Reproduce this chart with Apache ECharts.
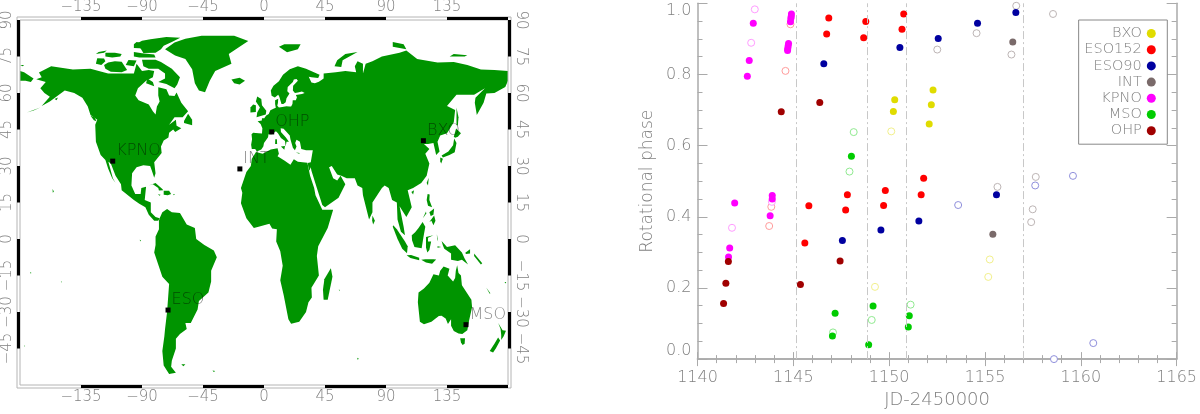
<!DOCTYPE html>
<html>
<head>
<meta charset="utf-8">
<title>Observing sites and rotational phase</title>
<script src="https://cdn.jsdelivr.net/npm/echarts@6/dist/echarts.min.js"></script>
<style>
  html, body { margin: 0; padding: 0; background: #fff; }
  #main { width: 1200px; height: 414px; }
</style>
</head>
<body>
<div id="main"></div>
<script>
// ---- map axis ticks
const lonTicks = [-135, -90, -45, 0, 45, 90, 135];
const latTicks = [-45, -30, -15, 0, 15, 30, 45, 60, 75, 90];
const lonBands = [[-135, -90], [-45, 0], [45, 90], [135, 180]];
const latBands = [[75, 90], [45, 60], [15, 30], [-15, 0], [-45, -30]];

// ---- observatories [lon, lat, name]
const sites = [
  [-111.6, 32, 'KPNO'], [5.7, 44, 'OHP'], [-17.8, 28.8, 'INT'],
  [117.6, 40.4, 'BXO'], [-70.8, -29.2, 'ESO'], [149, -35.2, 'MSO']
];

// ---- coastlines, lon/lat
const eurasia = [[-9,37],[-9.5,38.7],[-8.8,41],[-9.2,43],[-8,43.7],[-4,43.5],[-1.5,43.4],[-1.2,45.5],[-2.5,47.3],[-4.7,48.4],[-1.6,48.7],[-1.5,49.6],[0.2,49.6],[1.6,50.8],[3.5,51.4],[4.7,52.9],[7,53.5],[8.7,53.9],[8.2,55.5],[8.2,57],[10.5,57.6],[10.3,56],[9.8,54.8],[11,54],[13.5,54.2],[16.5,54.6],[18.6,54.5],[20,54.5],[21,55.5],[21.2,57],[23.5,57],[24.3,58.3],[23.5,59.2],[28,59.6],[30,60],[28,60.6],[25,60.2],[22.8,60],[21.3,61],[21.5,63],[25,65],[24,65.8],[22,65.5],[21.3,64.5],[17.5,62.5],[17.2,60.7],[18.8,59.8],[16.6,57.8],[16,56.2],[14.3,55.5],[12.9,55.5],[11.3,58.5],[10.5,59.3],[8,58.1],[5.6,58.9],[5,61],[7,63],[11,64.8],[14,67.5],[19,69.8],[25,71],[31,70],[41,67.5],[40,66.2],[35,66.5],[33,66.7],[35,64.3],[37.5,64],[40.5,64.6],[44,66],[44,68],[53,68.5],[60,69],[68,68.5],[67,71],[69,73],[73,72],[73,68],[75,72],[80,73],[87,75],[100,76.5],[105,77.5],[113,74],[128,72.5],[140,72.7],[150,71.5],[160,69.7],[170,69.5],[180,69],[180,65],[178,62.5],[170,60],[164,59.8],[162,56],[157,51],[155.5,56],[156,58],[163,62],[155,59.3],[142,59.3],[135,54.7],[141,53],[140,48],[135,43.5],[130,42.5],[128,40],[129.5,36],[127,34.5],[126,37],[125,39.5],[121,39],[118,39],[122,37],[119,35],[122,31],[120,26],[116,23],[110,21],[106,20],[109,13],[105,9],[100,13.5],[103,5],[104,1.5],[101,3],[98.5,8],[98,15],[94.5,16],[92,21],[89,22],[87,21],[80,15],[80,11],[77.5,8],[73,18],[72.5,21],[69,22],[67,25],[61,25],[57,26],[54,26.5],[50,30],[48,29.5],[51,25],[54,24],[56.5,26],[60,22.5],[55,17],[45,13],[43,14],[39,21],[35,28],[34.5,29.5],[33.5,28],[32.6,29.9],[32.3,31.2],[34.5,31.5],[36,36.5],[31,36.5],[27.5,37],[26.5,40],[24,40.8],[23,39.5],[24,38],[22.8,36.5],[21.3,37.5],[19.5,41],[19,42.5],[14.5,45.3],[12.3,45.5],[12.5,44],[16,41.8],[18.4,40],[16.6,40],[16,38],[15.5,40.3],[12.5,41.5],[10.3,43.5],[8.8,44.3],[6,43],[3.3,43],[3,41.8],[0,39.5],[-0.5,38],[-2,36.8],[-5.3,36],[-6.5,37]];
const africa = [[-5.9,35.8],[-1,35],[5,36.8],[10,37.3],[11,35],[10,34],[15,32.3],[19.5,30.5],[22,32.8],[25,31.7],[32,31.3],[32.6,29.8],[34,26],[37,21],[38,18],[43,12],[51,12],[47,4.5],[40,-3],[39,-7],[40.5,-15],[35,-20],[35.3,-24],[32.8,-26],[31,-30],[26,-34],[20,-34.8],[18,-33],[14.5,-23],[12,-17],[13.8,-11],[12,-5],[9,-1],[9.5,4],[6,4.3],[4,6.3],[-4,5],[-7.5,4.5],[-13,8.5],[-17,14.7],[-16,19],[-17,21],[-13,27.5],[-9.7,30],[-9,33]];
const northAmerica = [[-168,65.6],[-164,66.5],[-166,68.4],[-157,71],[-141,69.7],[-128,70],[-115,68],[-108,68],[-96,68],[-94,72],[-90,69],[-85,69.5],[-81,69],[-82,66.5],[-87,65],[-93,62],[-95,59],[-92.5,57],[-85,55.3],[-82,52.5],[-80,51.2],[-79,54.5],[-77,56.5],[-78,59],[-78,62.4],[-72,61.5],[-70,59],[-66,58.8],[-64.5,60.2],[-61,56],[-56,52.5],[-60,50],[-66,50],[-70,47],[-65,49],[-64.5,46.5],[-61,45.5],[-65.5,44],[-67,45],[-70,43.7],[-70.5,41.7],[-74,40.5],[-76,38],[-75.5,35.3],[-81,31.5],[-80,27],[-81,25.2],[-82.7,28],[-84,30],[-89,30.3],[-94,29.5],[-97.3,27],[-97.8,22],[-95,18.5],[-91,18.5],[-90.5,21],[-87,21.5],[-88,16],[-83.5,15],[-83.5,11],[-80,9],[-77,8.5],[-78,7.5],[-81,7.5],[-85,10],[-87.5,13],[-92,14.5],[-96,16],[-105,20],[-105.5,22.5],[-109.5,26],[-113,31],[-114.8,31.7],[-111.5,25],[-109.5,23],[-112,25],[-115,29],[-117,32.5],[-120.5,34.5],[-124,40],[-124.5,47],[-123,49],[-128,51],[-130,54.5],[-134,58],[-140,60],[-147,61],[-152,59],[-158,56.5],[-164,54.7],[-158,58.5],[-162,60],[-165,62],[-161,64.5]];
const southAmerica = [[-77,8.5],[-75,11],[-71.5,12.3],[-68,11],[-62,10.7],[-57,6],[-51,4.5],[-50,0],[-44,-2.5],[-37,-4.7],[-34.8,-7.5],[-39,-13],[-39,-17.5],[-41,-22],[-48,-25.5],[-49,-29],[-54,-34.5],[-58,-34.5],[-57,-37],[-62,-39],[-65,-41],[-65,-45],[-68,-50],[-68.5,-52.5],[-65,-55],[-70,-55.5],[-74,-52],[-75,-46],[-73.5,-40],[-73,-37],[-71.5,-30],[-70,-18.5],[-75,-15.5],[-81,-5.5],[-80,-2.5],[-80,1],[-77.5,4],[-77.5,7.5]];
const australia = [[114,-22],[113.5,-26],[115,-34],[118,-35],[123.5,-34],[129,-31.6],[131,-31.5],[134,-32.7],[135.7,-34.9],[138,-33],[138,-35.6],[140,-37.8],[143.5,-38.8],[146.3,-39],[150,-37.5],[151.3,-33.5],[153.5,-28],[153,-25],[149.5,-22],[146,-19],[145.3,-15],[143.5,-14],[142.5,-10.8],[141.5,-13],[141,-16],[139.5,-17.5],[135.5,-15],[136.8,-12.2],[132.5,-11.3],[130,-13],[129,-15],[125,-14.5],[122,-18],[118,-20.3]];
const arcticIslands = [
  [[-180,69],[-177,68.5],[-170,66],[-172,64.5],[-176,65],[-180,65]],
  [[-90,73.7],[-80,73.7],[-76,72.7],[-68,70],[-62,66.5],[-64,63.5],[-66,62],[-72,63.7],[-78,64.5],[-73,66],[-73,68],[-78,70],[-85,70],[-89,71]],
  [[-117,70],[-113,68.7],[-105,68.5],[-101,69.5],[-105,72.8],[-110,73],[-115,72.5],[-118,71.5]],
  [[-124,72],[-120,71.5],[-117,73],[-118,74.2],[-123,74.3]],
  [[-94.8,80],[-90,81.5],[-83.8,82.1],[-72,83],[-61.8,82.7],[-68,81],[-74,79.4],[-76,78],[-80,76.5],[-89,76.4],[-91,78.3]],
  [[-96,75],[-92,74.6],[-80,74.6],[-81,75.8],[-90,76.3],[-96,76.8]],
  [[-117,75],[-112,74.6],[-106,75],[-105,76],[-110,76.5],[-117,76.5]],
  [[-124,76],[-118,76.5],[-116,77.5],[-122,76.8]],
  [[-96,78.5],[-88,78.3],[-87,80.3],[-94,81],[-96,80]],
  [[-102,71.5],[-96,71],[-94,73.4],[-100,73.6]],
  [[-87,64],[-81,62.8],[-82,64.5],[-86,66]],
  [[-73,78],[-66,80.8],[-58,82.3],[-46,83.5],[-22,83.5],[-11.6,81.4],[-18,79],[-26,76],[-24,72],[-36,69],[-40,65],[-43.5,60.3],[-48,61],[-51,64],[-53,69.8],[-58,74],[-65.6,75.4]],
  [[-24,65.5],[-18,66.3],[-14,65],[-18,63.5],[-22,64]],
  [[11,79],[17,76.7],[25,78],[27,80],[15,80]],
  [[52,71],[57,70.7],[58,73.5],[69,76.8],[60,76],[54,73.5]],
  [[95,79],[105,78],[103,80],[95,81]],
  [[137,75],[148,75],[150,75.5],[140,76]],
  [[-180,71.5],[-178,71],[-177,71.5]]
];
const otherIslands = [
  [[-59,47.7],[-53,46.7],[-53,49],[-56,51.5],[-59,48.5]],
  [[-5.5,50],[1.3,51.2],[1.7,52.7],[-1.5,55],[-2,57.5],[-5,58.6],[-6,56.5],[-3,54],[-5,52]],
  [[-10,52],[-6,52.2],[-6,55],[-8,55.3],[-10,54]],
  [[12.5,38],[15.5,38.2],[15,36.7]],
  [[8.2,39],[9.7,39],[9.5,41],[8.3,41]],
  [[23.5,35.5],[26.3,35.3],[26,35]],
  [[142,54],[143.5,50],[143,46.5],[142,47],[142,51]],
  [[131,34.3],[136,36],[139.5,38.5],[140.3,41.3],[142,39.5],[140.7,35.7],[136.8,34.5],[132,33.5]],
  [[140,42],[141.7,45.4],[145.3,43.5],[143,42],[141,41.6]],
  [[130,33.5],[132,33],[130.7,31],[130,32]],
  [[120,23],[121.5,25.2],[121,22]],
  [[108.7,19.3],[110.7,20],[110,18.3]],
  [[120,16],[120.7,18.5],[122.2,18.3],[122,16],[124,13],[121,13.7]],
  [[122,7],[125.5,9.7],[126.5,7.5],[125,5.7],[123.5,7.5]],
  [[122,11],[125.5,12.5],[125,10],[123,9.5]],
  [[117.2,8.5],[119.5,11.3],[119.7,10.5]],
  [[80,9.7],[81.8,7.5],[80.5,6],[79.8,7.5]],
  [[95.3,5.6],[98,4],[104,-1],[106,-3],[105.5,-5.9],[102,-4],[98.5,0],[95,5]],
  [[105.2,-6.7],[108.5,-6.6],[114.5,-7.7],[114.5,-8.7],[108,-7.8]],
  [[116,-8.5],[119,-8.3],[125,-8.3],[127,-8.4],[124,-10.2],[119.5,-9.7]],
  [[109,1.5],[111.5,2.8],[114,4.5],[117,7],[119,5],[117.7,1],[116.3,-3.8],[111,-3.3],[109.2,-0.5]],
  [[119.5,0.8],[125,1.5],[121,0.5],[121,-1],[123.3,-1],[122,-4.5],[120.5,-5.5],[119.5,-3.5]],
  [[127.5,2],[128.5,-1],[127.7,0]],
  [[128,-3],[130.7,-3.3],[128,-3.6]],
  [[131,-0.8],[135,-3.3],[141,-2.6],[146,-5.5],[148,-8],[150.5,-10.5],[146,-8.5],[143,-9],[138,-8.5],[138,-6],[133,-4],[132,-2.7]],
  [[148.5,-5.7],[152,-4.2],[152,-6],[149,-6.2]],
  [[155,-6],[161,-10],[160,-10.5],[155,-7]],
  [[164,-20],[167,-22.3],[166.5,-22.5]],
  [[177.5,-17.7],[178.7,-17.7],[178,-18.3]],
  [[144.7,-40.8],[148.3,-40.8],[148,-43],[146.5,-43.6],[145.3,-42.5]],
  [[172.8,-34.5],[176,-37.5],[178.5,-37.7],[176.8,-40],[175,-41.5],[175,-39.5],[174.5,-37]],
  [[172.7,-40.5],[174.2,-41.7],[171,-45],[169,-46.6],[166.5,-46],[170,-43]],
  [[49.3,-12],[50.5,-15.5],[47,-25],[44,-25],[43.5,-21],[44.5,-16.5]],
  [[-61,-51.5],[-58,-51.5],[-59.5,-52.3]],
  [[-128,50.7],[-125,50],[-123.5,48.4],[-125.5,48.8]],
  [[-85,22],[-80,23],[-75,20.5],[-74.3,20],[-77.5,19.9],[-78,21],[-82,22.5]],
  [[-74,19.8],[-70,19.8],[-68.5,18.5],[-71,18],[-74,18.2]],
  [[-78.3,18.4],[-76.3,18.2],[-77,17.8]],
  [[-67,18.5],[-65.7,18.4],[-66.5,18]],
  [[-156,20.5],[-155,19.5],[-155.8,19]],
  [[-91.7,-0.3],[-90.8,-0.5],[-91.3,-1]],
  [[-172.5,-13.6],[-171.5,-14],[-172.3,-14.2]],
  [[-149.8,-17.4],[-149.2,-17.6],[-149.6,-18]],
  [[-176.8,-43.7],[-176.2,-44],[-176.6,-44.3]],
  [[55.2,-20.8],[55.9,-21],[55.5,-21.5]],
  [[68.8,-48.8],[70,-49.2],[69,-49.6]],
  [[-38,-54],[-36,-54.2],[-37,-54.7]],
  [[-175,52],[-170,52.8],[-165,54],[-170,53]],
  [[-154.5,57.5],[-152,58.2],[-153,57]]
];
const landMasses = [eurasia, africa, northAmerica, southAmerica, australia].concat(arcticIslands, otherIslands);

// ---- phase plot: [JD-2450000, phase]
const stationNames = ['BXO', 'ESO152', 'ESO90', 'INT', 'KPNO', 'MSO', 'OHP'];
const bxoFilled = [[1150.29,.729],[1150.22,.696],[1152.29,.756],[1152.20,.715],[1152.09,.661]];
const bxoOpen = [[1150.11,.640],[1149.26,.203],[1155.25,.280],[1155.17,.231]];
const eso152Filled = [[1146.85,.959],[1146.74,.914],[1148.78,.949],[1148.67,.903],[1150.76,.970],[1150.67,.927],[1147.82,.462],[1149.80,.474],[1151.67,.462],[1145.81,.431],[1147.73,.419],[1149.71,.432],[1145.60,.326],[1151.80,.508]];
const eso152Open = [[1144.59,.810],[1144.85,.941],[1143.85,.428],[1143.74,.374]];
const eso90Filled = [[1146.59,.830],[1150.56,.876],[1152.56,.901],[1154.61,.944],[1156.61,.974],[1155.60,.462],[1147.56,.333],[1149.57,.363],[1151.55,.388]];
const eso90Open = [[1157.62,.488],[1159.59,.515],[1153.60,.433],[1158.60,.000],[1160.65,.045]];
const intFilled = [[1156.45,.891],[1155.41,.351]];
const intOpen = [[1156.63,.993],[1158.55,.970],[1154.56,.916],[1152.51,.870],[1156.38,.856],[1157.65,.512],[1155.65,.484],[1157.49,.421],[1157.41,.385]];
const kpnoFilled = [[1142.91,.944],[1142.70,.839],[1142.60,.795],[1144.90,.970],[1144.89,.963],[1144.87,.957],[1144.85,.948],[1144.75,.887],[1144.73,.880],[1144.71,.873],[1144.70,.867],[1143.90,.460],[1143.90,.450],[1141.94,.439],[1143.79,.403],[1141.68,.312],[1141.62,.287]];
const kpnoOpen = [[1142.99,.983],[1142.80,.889],[1141.80,.369],[1143.88,.442]];
const msoFilled = [[1148.03,.570],[1147.18,.129],[1147.04,.065],[1149.16,.149],[1148.93,.040],[1151.05,.122],[1151.00,.090]];
const msoOpen = [[1148.15,.638],[1147.93,.527],[1147.07,.075],[1149.09,.110],[1151.12,.153]];
const ohpFilled = [[1144.37,.695],[1146.38,.721],[1141.61,.274],[1141.48,.213],[1141.36,.156],[1145.37,.210],[1147.44,.276]];
const ohpOpen = [];
const filledPoints = [bxoFilled, eso152Filled, eso90Filled, intFilled, kpnoFilled, msoFilled, ohpFilled];
const openPoints = [bxoOpen, eso152Open, eso90Open, intOpen, kpnoOpen, msoOpen, ohpOpen];
// vertical dash-dot separators
const separators = [1145.15, 1148.86, 1150.89, 1157.0];

const solidColors = ['#e0dc00', '#ff0000', '#0000a0', '#7a6a6a', '#ff00ff', '#00cc00', '#a00000'];
const ringColors = ['#f2f08c', '#ff9c9c', '#8f8fdc', '#bdb5b5', '#ff9cff', '#90ea90', '#d08080'];

const labelFont = 'DejaVu Sans';
const textGray = '#808080';
const frameGray = '#b4b4b4';

function mapFrame(params, api) {
  const tl = api.coord([-180, 90]);
  const br = api.coord([180, -60]);
  const t = 3;
  const kids = [
    { type: 'rect', shape: { x: tl[0] - t, y: tl[1] - t, width: br[0] - tl[0] + 2 * t, height: br[1] - tl[1] + 2 * t },
      style: { fill: 'none', stroke: frameGray, lineWidth: 1 } },
    { type: 'rect', shape: { x: tl[0], y: tl[1], width: br[0] - tl[0], height: br[1] - tl[1] },
      style: { fill: 'none', stroke: frameGray, lineWidth: 1 } }
  ];
  lonBands.forEach(function (b) {
    const x0 = api.coord([b[0], 90])[0];
    const x1 = api.coord([b[1], 90])[0];
    kids.push({ type: 'rect', shape: { x: x0, y: tl[1] - t, width: x1 - x0, height: t }, style: { fill: '#000' } });
    kids.push({ type: 'rect', shape: { x: x0, y: br[1], width: x1 - x0, height: t }, style: { fill: '#000' } });
  });
  latBands.forEach(function (b) {
    const y0 = api.coord([-180, b[1]])[1];
    const y1 = api.coord([-180, b[0]])[1];
    kids.push({ type: 'rect', shape: { x: tl[0] - t, y: y0, width: t, height: y1 - y0 }, style: { fill: '#000' } });
    kids.push({ type: 'rect', shape: { x: br[0], y: y0, width: t, height: y1 - y0 }, style: { fill: '#000' } });
  });
  return { type: 'group', children: kids };
}

const series = [
  {
    type: 'custom', name: 'land', xAxisIndex: 0, yAxisIndex: 0, silent: true,
    data: landMasses.map(function (p, i) { return [i]; }),
    encode: { x: 0 },
    renderItem: function (params, api) {
      const pts = landMasses[api.value(0)].map(function (c) { return api.coord(c); });
      return { type: 'polygon', shape: { points: pts }, style: { fill: '#009400' } };
    }
  },
  {
    type: 'custom', name: 'frame', xAxisIndex: 0, yAxisIndex: 0, silent: true, clip: false, z: 5,
    data: [[0, 0]],
    renderItem: mapFrame
  },
  {
    type: 'scatter', name: 'sites', xAxisIndex: 0, yAxisIndex: 0, symbol: 'rect', symbolSize: 5, z: 6,
    itemStyle: { color: '#000', opacity: 1 },
    label: {
      show: true, position: 'right', distance: 1, offset: [0, -10],
      formatter: function (p) { return p.value[2]; },
      color: 'rgba(0,0,0,0.5)', fontFamily: labelFont, fontWeight: 200, fontSize: 16
    },
    data: sites
  }
];

stationNames.forEach(function (name, i) {
  series.push({
    type: 'scatter', name: name + ' open', xAxisIndex: 1, yAxisIndex: 1, clip: false,
    symbolSize: 7, z: 3,
    itemStyle: { color: '#fff', borderColor: ringColors[i], borderWidth: 1, opacity: 1 },
    data: openPoints[i]
  });
});
stationNames.forEach(function (name, i) {
  const s = {
    type: 'scatter', name: name, xAxisIndex: 1, yAxisIndex: 1, clip: false,
    symbolSize: 7, z: 4,
    itemStyle: { color: solidColors[i], opacity: 1 },
    data: filledPoints[i]
  };
  if (i === 0) {
    s.markLine = {
      silent: true, symbol: 'none', animation: false, label: { show: false },
      lineStyle: { color: '#c8c8c8', width: 1, type: [8, 3, 2, 3] },
      data: separators.map(function (v) { return { xAxis: v }; })
    };
  }
  series.push(s);
});

function mapLabel(v) { return String(v).replace('-', '\u2212'); }
const mapLabelStyle = {
  color: textGray, fontFamily: labelFont, fontWeight: 200, fontSize: 15
};
const lonAxis = function (pos) {
  return {
    type: 'value', gridIndex: 0, position: pos, min: -180, max: 180, interval: 45,
    axisLine: { show: false }, axisTick: { show: false }, splitLine: { show: false },
    axisLabel: Object.assign({
      margin: 5,
      formatter: function (v) { return lonTicks.indexOf(v) >= 0 ? mapLabel(v) : ''; }
    }, mapLabelStyle)
  };
};
const latAxis = function (pos, rot) {
  return {
    type: 'value', gridIndex: 0, position: pos, min: -60, max: 90, interval: 15,
    axisLine: { show: false }, axisTick: { show: false }, splitLine: { show: false },
    axisLabel: Object.assign({
      margin: 5, rotate: rot,
      formatter: function (v) { return latTicks.indexOf(v) >= 0 ? mapLabel(v) : ''; }
    }, mapLabelStyle)
  };
};
const phaseAxisLine = { lineStyle: { color: '#aaaaaa', width: 1.5 } };
const jdAxis = function (pos, showLabel) {
  return {
    type: 'value', gridIndex: 1, position: pos, min: 1140, max: 1165, interval: 5,
    name: showLabel ? 'JD-2450000' : '', nameLocation: 'middle', nameGap: 31,
    nameTextStyle: { color: textGray, fontFamily: labelFont, fontWeight: 200, fontSize: 18 },
    axisLine: phaseAxisLine,
    axisTick: { inside: true, length: 7, lineStyle: { color: '#aaaaaa', width: 1 } },
    minorTick: { show: true, splitNumber: 5, length: 4, lineStyle: { color: '#aaaaaa', width: 1 } },
    splitLine: { show: false }, minorSplitLine: { show: false },
    axisLabel: {
      show: showLabel, margin: 11, color: textGray, fontFamily: labelFont, fontWeight: 200, fontSize: 16,
      formatter: function (v) { return String(v); }
    }
  };
};
const phaseAxis = function (pos, showLabel) {
  return {
    type: 'value', gridIndex: 1, position: pos, min: 0, max: 1, interval: 0.2,
    name: showLabel ? 'Rotational phase' : '', nameLocation: 'middle', nameGap: 41,
    nameTextStyle: { color: textGray, fontFamily: labelFont, fontWeight: 200, fontSize: 17 },
    axisLine: phaseAxisLine,
    axisTick: { inside: true, length: 10, lineStyle: { color: '#aaaaaa', width: 1 } },
    minorTick: { show: true, splitNumber: 4, length: 5, lineStyle: { color: '#aaaaaa', width: 1 } },
    splitLine: { show: false }, minorSplitLine: { show: false },
    axisLabel: {
      show: showLabel, margin: 6, color: textGray, fontFamily: labelFont, fontWeight: 200, fontSize: 16,
      verticalAlignMinLabel: 'bottom', verticalAlignMaxLabel: 'top',
      formatter: function (v) { return v.toFixed(1); }
    }
  };
};

const chart = echarts.init(document.getElementById('main'));
chart.setOption({
  backgroundColor: '#fff',
  animation: false,
  grid: [
    { left: 17, right: 692, top: 17.3, bottom: 29 },
    { left: 697.5, right: 22.3, top: 3.3, bottom: 48.3 }
  ],
  xAxis: [lonAxis('bottom'), jdAxis('bottom', true), lonAxis('top'), jdAxis('top', false)],
  yAxis: [latAxis('left', 90), phaseAxis('left', true), latAxis('right', -90), phaseAxis('right', false)],
  legend: {
    data: stationNames, orient: 'vertical', align: 'right', right: 32.7, top: 20, z: 10,
    padding: [6, 11.5, 6, 5.7], itemWidth: 9, itemHeight: 9, itemGap: 1.2, icon: 'circle',
    selectedMode: false, backgroundColor: '#fff', borderColor: '#888', borderWidth: 1,
    textStyle: { color: textGray, fontFamily: labelFont, fontWeight: 200, fontSize: 14.5, lineHeight: 12 }
  },
  series: series
});
</script>
</body>
</html>
